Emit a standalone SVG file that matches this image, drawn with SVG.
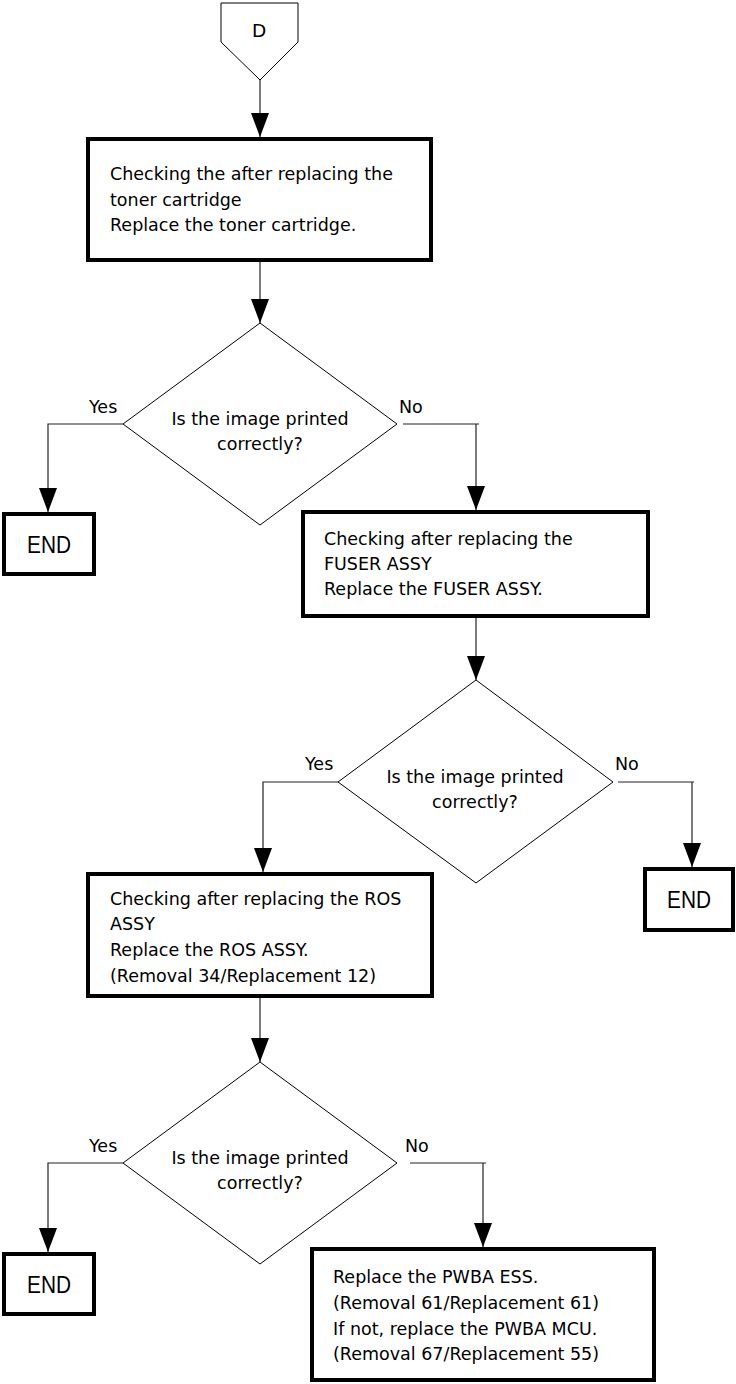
<svg xmlns="http://www.w3.org/2000/svg" width="736" height="1384" viewBox="0 0 736 1384">
<style>
text{font-family:"DejaVu Sans","Liberation Sans",sans-serif;font-size:17.5px;fill:#000}
.box{fill:#fff;stroke:#000;stroke-width:4}
.thin{fill:#fff;stroke:#000;stroke-width:1}
.c{text-anchor:middle}
.end{font-family:"Liberation Sans",Arial,sans-serif;font-size:24px;text-anchor:middle}
.conn{fill:none;stroke:#222;stroke-width:1.2;marker-end:url(#arr)}
.plain{fill:none;stroke:#222;stroke-width:1.2}
</style>
<defs>
<marker id="arr" markerUnits="userSpaceOnUse" viewBox="0 0 24 18" markerWidth="24" markerHeight="18" refX="24" refY="9" orient="auto">
<path d="M0,0 L24,9 L0,18 z" fill="#000"/>
</marker>
</defs>
<rect width="736" height="1384" fill="#fff"/>
<g id="connectors">
<path class="conn" d="M260,80 V137"/>
<path class="conn" d="M260,262 V323"/>
<path class="conn" d="M123,424 H48 V512"/>
<path class="plain" d="M403,424 H479"/>
<path class="conn" d="M476,424 V510"/>
<path class="conn" d="M476,618 V680"/>
<path class="conn" d="M338,782 H263 V872"/>
<path class="plain" d="M618,782 H694"/>
<path class="conn" d="M692,782 V867"/>
<path class="conn" d="M260,998 V1062"/>
<path class="conn" d="M123,1163 H48 V1252"/>
<path class="plain" d="M410,1163 H486"/>
<path class="conn" d="M483,1163 V1247"/>
</g>
<g id="start">
<polygon class="thin" points="221,3 298,3 298,42 260,80 221,42"/>
<text x="259" y="37" class="c" style="font-size:18.5px">D</text>
</g>
<g id="box1">
<rect class="box" x="88" y="139" width="343" height="121"/>
<text x="110" y="180">Checking the after replacing the</text>
<text x="110" y="206">toner cartridge</text>
<text x="110" y="231">Replace the toner cartridge.</text>
</g>
<g id="decision1">
<polygon class="thin" points="260,323 397,424 260,525 123,424"/>
<text x="260" y="425" class="c">Is the image printed</text>
<text x="260" y="450" class="c">correctly?</text>
<text x="89" y="413">Yes</text>
<text x="399" y="413">No</text>
</g>
<g id="end1">
<rect class="box" x="4" y="514" width="90" height="60"/>
<text x="49" y="553" class="end" textLength="44" lengthAdjust="spacingAndGlyphs">END</text>
</g>
<g id="box2">
<rect class="box" x="303" y="512" width="345" height="104"/>
<text x="324" y="545">Checking after replacing the</text>
<text x="324" y="570">FUSER ASSY</text>
<text x="324" y="595">Replace the FUSER ASSY.</text>
</g>
<g id="decision2">
<polygon class="thin" points="476,680 613,782 476,883 338,782"/>
<text x="475" y="783" class="c">Is the image printed</text>
<text x="475" y="808" class="c">correctly?</text>
<text x="305" y="770">Yes</text>
<text x="615" y="770">No</text>
</g>
<g id="end2">
<rect class="box" x="645" y="869" width="88" height="61"/>
<text x="689" y="908" class="end" textLength="44" lengthAdjust="spacingAndGlyphs">END</text>
</g>
<g id="box3">
<rect class="box" x="88" y="874" width="344" height="122"/>
<text x="110" y="905">Checking after replacing the ROS</text>
<text x="110" y="930">ASSY</text>
<text x="110" y="956">Replace the ROS ASSY.</text>
<text x="110" y="982">(Removal 34/Replacement 12)</text>
</g>
<g id="decision3">
<polygon class="thin" points="260,1062 397,1163 260,1264 123,1163"/>
<text x="260" y="1164" class="c">Is the image printed</text>
<text x="260" y="1189" class="c">correctly?</text>
<text x="89" y="1152">Yes</text>
<text x="405" y="1152">No</text>
</g>
<g id="end3">
<rect class="box" x="4" y="1254" width="90" height="60"/>
<text x="49" y="1293" class="end" textLength="44" lengthAdjust="spacingAndGlyphs">END</text>
</g>
<g id="box4">
<rect class="box" x="312" y="1249" width="342" height="131"/>
<text x="333" y="1283">Replace the PWBA ESS.</text>
<text x="333" y="1309">(Removal 61/Replacement 61)</text>
<text x="333" y="1335">If not, replace the PWBA MCU.</text>
<text x="333" y="1360">(Removal 67/Replacement 55)</text>
</g>
</svg>
